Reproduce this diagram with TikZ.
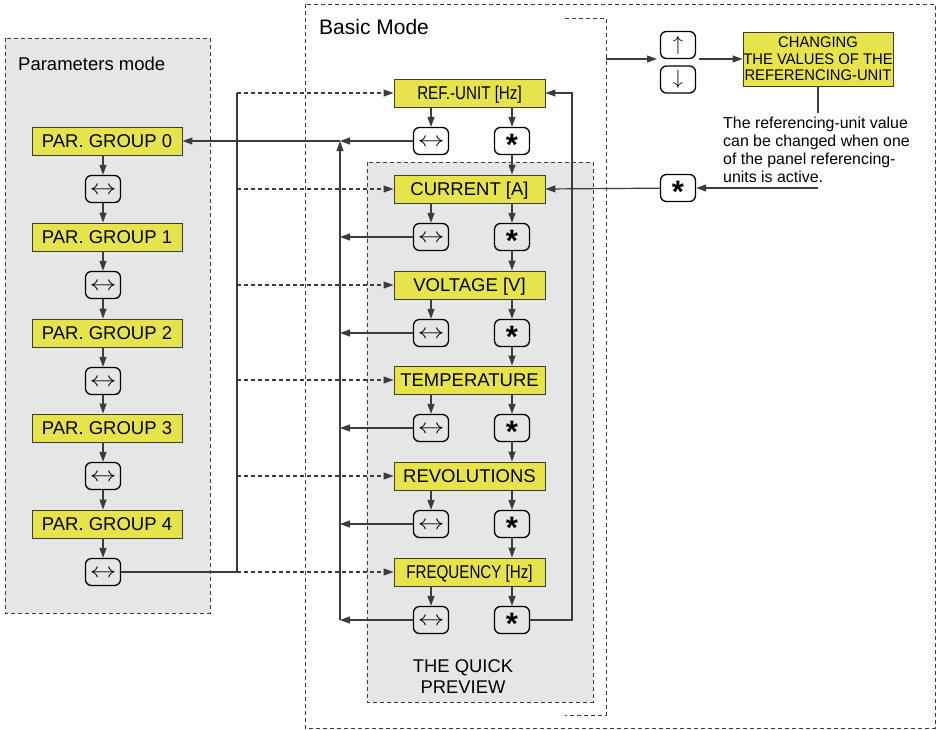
\documentclass[tikz,border=0pt]{standalone}
\usepackage{fontspec}
\setmainfont{Liberation Sans}
\newfontfamily\condfont[FakeStretch=0.82]{Liberation Sans}
\newfontfamily\notefont[FakeStretch=0.96]{Liberation Sans}
\usetikzlibrary{arrows.meta}
\definecolor{keyyellow}{HTML}{E6E34B}
\definecolor{panelgray}{HTML}{E6E6E6}
\definecolor{linegray}{HTML}{3C3C3C}

\newcommand{\swapkey}{{\fontsize{21}{21}\selectfont\smash{\raisebox{-5.2pt}{\scalebox{1.3}[1]{$\leftrightarrow$}}}}}
\newcommand{\upkey}{{\fontsize{21}{21}\selectfont\smash{\raisebox{-5.2pt}{$\uparrow$}}}}
\newcommand{\downkey}{{\fontsize{21}{21}\selectfont\smash{\raisebox{-5.2pt}{$\downarrow$}}}}
\newcommand{\starkey}{{\fontsize{31}{31}\selectfont\bfseries\smash{\raisebox{-14.8pt}{*}}}}

\begin{document}
\begin{tikzpicture}[x=1pt, y=-1pt,
  yellowbox/.style={draw=linegray, fill=keyyellow, line width=0.9pt, inner sep=0pt},
  unitbox/.style={yellowbox, minimum width=151pt, minimum height=28pt,
                  text height=13.3pt, text depth=0pt,
                  font=\fontsize{18.5}{20}\selectfont},
  keybtn/.style={draw=black, line width=1.3pt, rounded corners=6pt,
                 minimum width=35pt, minimum height=27pt, inner sep=0pt},
  panel/.style={draw=linegray, dash pattern=on 4pt off 3pt, line width=0.9pt},
  arr/.style={-{Triangle[length=10pt,width=7pt]}, linegray, line width=1.2pt},
  dasharr/.style={arr, dash pattern=on 4pt off 3pt},
  ln/.style={linegray, line width=1.2pt}
]
  \useasboundingbox (0,0) rectangle (936,729);

  % Parameters mode
  \draw[panel, fill=panelgray] (5,38) rectangle (210,613);
  \node[anchor=west, inner sep=0pt, font=\fontsize{18.5}{20}\selectfont] (partitle) at (18,64) {Parameters mode};
  \foreach \i/\y in {0/141, 1/237, 2/333, 3/428, 4/524} {
    \node[unitbox, minimum width=150pt] (pg\i) at (107,\y) {PAR. GROUP \i};
    \node[keybtn] (pk\i) at (103,\y+48) {\swapkey};
    \draw[arr] (pg\i.south -| pk\i) -- (pk\i);
  }
  \foreach \i [count=\j] in {0,...,3}
    \draw[arr] (pk\i) -- (pg\j.north -| pk\i);

  % Basic mode
  \draw[panel] (305,4) rectangle (935,728);
  \node[anchor=west, inner sep=0pt, font=\fontsize{21}{24}\selectfont] (basictitle) at (319,27) {Basic Mode};
  \draw[panel] (565,18) -- (606,18) -- (606,715) -- (565,715);
  \draw[panel, fill=panelgray] (367,162) rectangle (593,702);
  \node[align=center, font=\fontsize{18.4}{21}\selectfont] (preview) at (463,677) {THE QUICK\\PREVIEW};

  \node[unitbox] (ref)  at (469.5,93)  {\condfont REF.-UNIT [Hz]};
  \node[unitbox] (cur)  at (469.5,189) {CURRENT [A]};
  \node[unitbox] (volt) at (469.5,285) {VOLTAGE [V]};
  \node[unitbox] (temp) at (469.5,380) {TEMPERATURE};
  \node[unitbox] (rev)  at (469.5,476) {REVOLUTIONS};
  \node[unitbox] (freq) at (469.5,572) {\condfont FREQUENCY [Hz]};

  \foreach \u/\y in {ref/93, cur/189, volt/285, temp/380, rev/476, freq/572} {
    \node[keybtn] (\u-sw) at (431,\y+48) {\swapkey};
    \node[keybtn] (\u-st) at (512,\y+48) {\starkey};
    \draw[arr] (\u.south -| \u-sw) -- (\u-sw);
    \draw[arr] (\u.south -| \u-st) -- (\u-st);
  }
  \foreach \a/\b in {ref/cur, cur/volt, volt/temp, temp/rev, rev/freq}
    \draw[arr] (\a-st) -- (\b.north -| \a-st);

  % back to parameters mode
  \coordinate (back-top) at (340,141);
  \coordinate (back-bot) at (340,620);
  \draw[arr] (back-bot) -- (back-top);
  \foreach \u in {ref, cur, volt, temp, rev, freq}
    \draw[arr] (\u-sw) -- (back-top |- \u-sw);
  \draw[arr] (back-top) -- (pg0);

  % entry from parameters mode
  \coordinate (entry-bot) at (237,572);
  \coordinate (entry-top) at (237,93);
  \draw[ln] (pk4) -- (entry-bot) -- (entry-top);
  \foreach \u in {ref, cur, volt, temp, rev, freq}
    \draw[dasharr] (entry-top |- \u.west) -- (\u.west);

  % loop to the first unit
  \coordinate (loop) at (572,620);
  \draw[arr] (freq-st) -- (loop) |- (ref.east);

  % changing the referencing unit
  \node[keybtn] (up)   at (678,45)   {\upkey};
  \node[keybtn] (down) at (678,79.5) {\downkey};
  \node[yellowbox, minimum width=150pt, minimum height=54pt, align=center,
        font=\notefont\fontsize{15.4}{16.5}\selectfont] (chg) at (818,59)
        {CHANGING\\THE VALUES OF THE\\REFERENCING-UNIT};
  \coordinate (bracket) at (606,59);
  \coordinate (ud-in) at (657,59);
  \coordinate (ud-out) at (699,59);
  \draw[arr] (bracket) -- (ud-in);
  \draw[arr] (ud-out) -- (chg);

  \node[anchor=north west, align=left, inner sep=0pt,
        font=\fontsize{15.9}{18}\selectfont] (note) at (723,116.5)
        {The referencing-unit value\\can be changed when one\\of the panel referencing-\\units is active.};
  \coordinate (note-top) at (818,113);
  \coordinate (note-bot) at (818,188);
  \draw[ln] (chg.south) -- (note-top);
  \node[keybtn] (rst) at (678,188) {\starkey};
  \draw[arr] (note-bot) -- (rst);
  \draw[arr] (rst) -- (cur.east);
\end{tikzpicture}
\end{document}
